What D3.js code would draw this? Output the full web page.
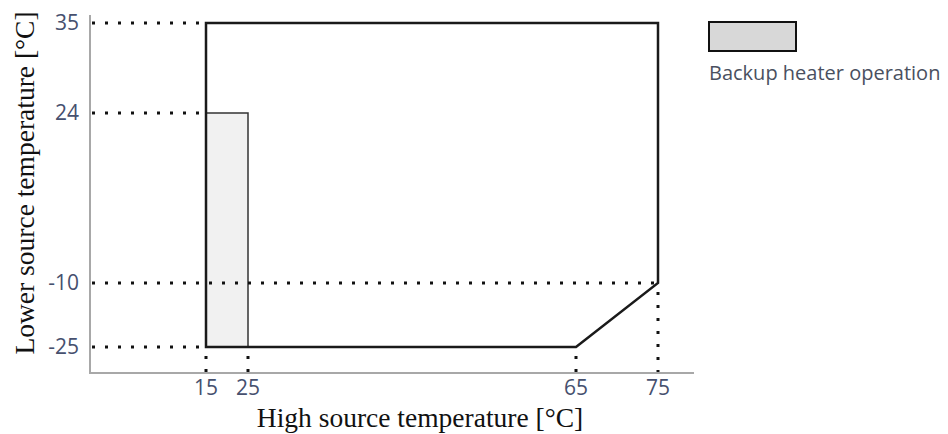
<!DOCTYPE html>
<html lang="en">
<head>
    <meta charset="UTF-8">
    <title>Operating range</title>
    <script src="https://d3js.org/d3.v7.min.js"></script>
    <style>
        body { margin: 0; background: #fff; }
    </style>
</head>
<body>
    <div id="chart"></div>
    <script>
        // values
        const xTicks = [15, 25, 65, 75];
        const yTicks = [-25, -10, 24, 35];
        // operating envelope (high source temp, lower source temp)
        const envelopeHigh = [15, 75, 75, 65, 15];
        const envelopeLow = [35, 35, -10, -25, -25];
        // backup heater zone
        const backupHigh = [15, 25];
        const backupLow = [-25, 24];
        // where the dotted guides meet the envelope
        const yGuideEnd = [15, 75, 15, 15];
        const xGuideStart = [-25, -25, -25, -10];
        const legendLabel = "Backup heater operation";

        const width = 948, height = 434;
        const frame = { left: 90, right: 694, top: 15, bottom: 373 };

        const svg = d3.select("#chart").append("svg")
            .attr("width", width)
            .attr("height", height);

        // the original axes are not linear, so use piecewise scales
        const x = d3.scaleLinear().domain(xTicks).range([206, 248, 576, 658]);
        const y = d3.scaleLinear().domain(yTicks).range([347, 283, 113, 23]);

        // backup heater area
        svg.append("rect")
            .attr("x", x(backupHigh[0]))
            .attr("y", y(backupLow[1]))
            .attr("width", x(backupHigh[1]) - x(backupHigh[0]))
            .attr("height", y(backupLow[0]) - y(backupLow[1]))
            .attr("fill", "#f1f1f1")
            .attr("stroke", "#333")
            .attr("stroke-width", 1.5);

        // dotted guides
        const dotted = g => g.attr("stroke", "#111")
            .attr("stroke-width", 3)
            .attr("stroke-dasharray", "3,10");

        svg.append("g").selectAll("line")
            .data(yTicks)
            .join("line")
            .attr("x1", frame.left + 2)
            .attr("x2", (d, i) => x(yGuideEnd[i]))
            .attr("y1", d => y(d))
            .attr("y2", d => y(d))
            .call(dotted);

        svg.append("g").selectAll("line")
            .data(xTicks)
            .join("line")
            .attr("x1", d => x(d))
            .attr("x2", d => x(d))
            .attr("y1", (d, i) => y(xGuideStart[i]) + 9)
            .attr("y2", frame.bottom)
            .call(dotted);

        // envelope outline
        const line = d3.line()
            .x(d => x(d[0]))
            .y(d => y(d[1]));
        svg.append("path")
            .attr("d", line(d3.zip(envelopeHigh, envelopeLow)) + "Z")
            .attr("fill", "none")
            .attr("stroke", "#1a1a1a")
            .attr("stroke-width", 2.5)
            .attr("stroke-linejoin", "miter");

        // axis frame
        svg.append("path")
            .attr("d", `M${frame.left},${frame.top}V${frame.bottom}H${frame.right}`)
            .attr("fill", "none")
            .attr("stroke", "#a8a8a8")
            .attr("stroke-width", 2);

        // tick labels
        const tickFont = "'Open Sans', sans-serif";
        svg.append("g").selectAll("text")
            .data(yTicks)
            .join("text")
            .attr("x", 79)
            .attr("y", d => y(d))
            .attr("dy", "0.35em")
            .attr("text-anchor", "end")
            .attr("font-family", tickFont)
            .attr("font-size", 21)
            .attr("fill", "#46506e")
            .text(d => d);

        svg.append("g").selectAll("text")
            .data(xTicks)
            .join("text")
            .attr("x", d => x(d))
            .attr("y", 395)
            .attr("text-anchor", "middle")
            .attr("font-family", tickFont)
            .attr("font-size", 21)
            .attr("fill", "#46506e")
            .text(d => d);

        // axis titles
        svg.append("text")
            .attr("x", 420)
            .attr("y", 427)
            .attr("text-anchor", "middle")
            .attr("font-family", "'Liberation Serif', serif")
            .attr("font-size", 27.5)
            .attr("fill", "#111")
            .text("High source temperature [°C]");

        svg.append("text")
            .attr("transform", "translate(34,183) rotate(-90)")
            .attr("text-anchor", "middle")
            .attr("font-family", "'Liberation Serif', serif")
            .attr("font-size", 27.5)
            .attr("fill", "#111")
            .text("Lower source temperature [°C]");

        // legend
        svg.append("rect")
            .attr("x", 709)
            .attr("y", 22)
            .attr("width", 87)
            .attr("height", 29)
            .attr("fill", "#d8d8d8")
            .attr("stroke", "#111")
            .attr("stroke-width", 2);

        svg.append("text")
            .attr("x", 709)
            .attr("y", 80)
            .attr("font-family", tickFont)
            .attr("font-size", 20)
            .attr("fill", "#4a5060")
            .text(legendLabel);
    </script>
</body>
</html>
